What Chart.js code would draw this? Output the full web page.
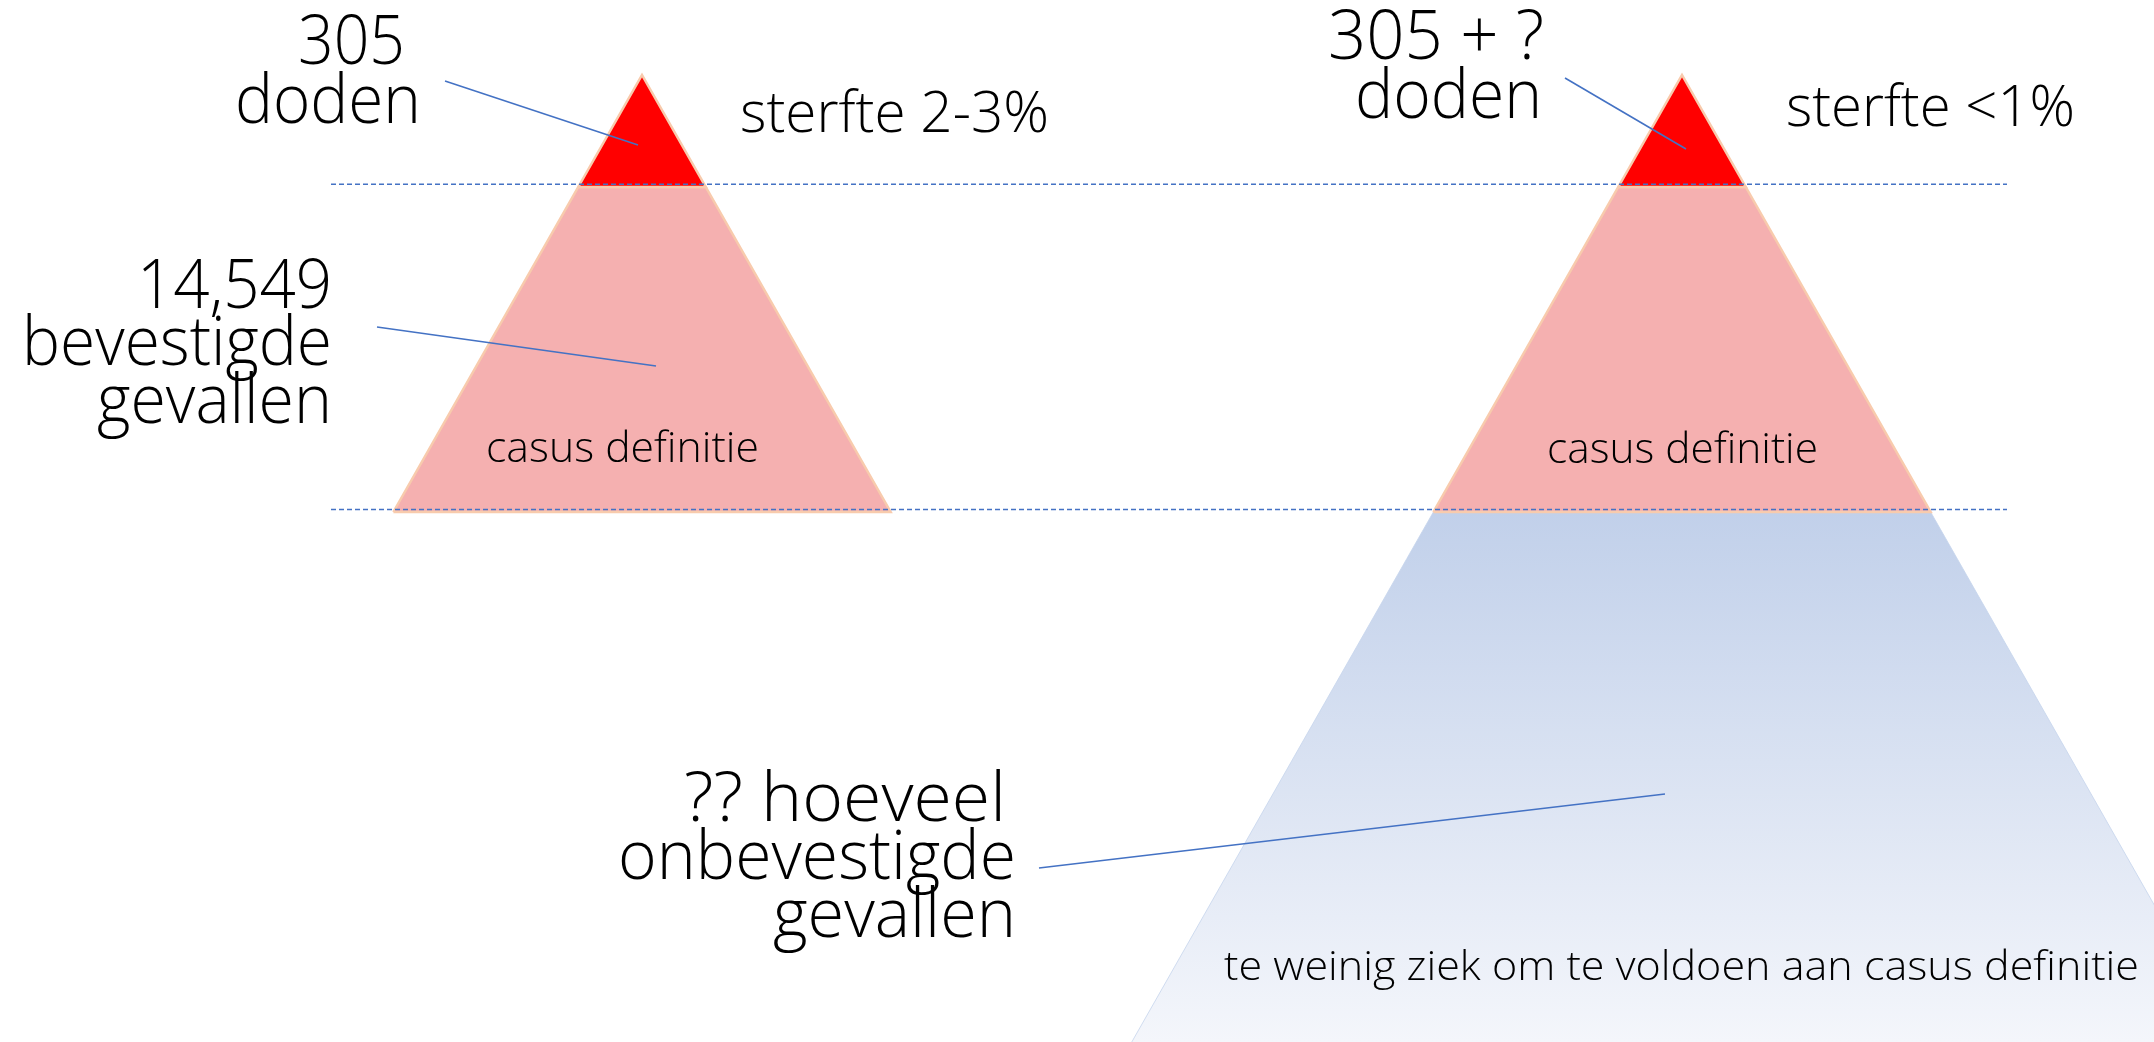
<!DOCTYPE html>
<html>
<head>
<meta charset="utf-8">
<script src="https://cdn.jsdelivr.net/npm/chart.js@4.4.1/dist/chart.umd.min.js"></script>
<style>
  html, body { margin: 0; padding: 0; background: #ffffff; overflow: hidden; }
  #wrap { width: 2154px; height: 1042px; position: relative; }
</style>
</head>
<body>
<div id="wrap"><canvas id="c"></canvas></div>
<script>
// ---------------- DATA (diagram frame: x 0..2154, y 0..1042, y downward) ----------------
const pyramidNames   = ['bevestigd', 'geschat'];
const apexX          = [642, 1682];          // top of each pyramid
const tierLevels     = [75, 187, 512, 1042]; // apex, doden-grens, casus-definitie-grens, onderkant
const halfWidthRate  = 0.569;                // half width per unit of height
const guideLevels    = [184.3, 509.5];       // dashed reference lines
const guideSpan      = [331, 2007];

// callout lines: [fromX, fromY, toX, toY]
const calloutFromX = [445, 377, 1565, 1039];
const calloutFromY = [81, 327, 78, 868];
const calloutToX   = [638, 656, 1686, 1665];
const calloutToY   = [145, 366, 149, 794];

// text labels
const labelText = ['305', 'doden', 'sterfte 2-3%', '14,549', 'bevestigde', 'gevallen', 'casus definitie',
                   '305 + ?', 'doden', 'sterfte <1%', 'casus definitie',
                   '?? hoeveel', 'onbevestigde', 'gevallen',
                   'te weinig ziek om te voldoen aan casus definitie'];

// ---------------- LAYOUT (text placement) ----------------
const labelLeft     = [298, 235, 740, 137, 22, 97, 486, 1328, 1355, 1786, 1547, 684, 618, 773, 1224];
const labelRight    = [405, 421, 1049, 332, 332, 332, 759, 1544, 1542, 2075, 1818, 1006, 1016, 1016, 2139];
const labelBaseline = [64, 123, 132, 308, 365, 423, 462, 59, 118, 126, 463, 821, 879, 937, 980];
const labelSize     = [68, 68, 57, 68, 68, 68, 43, 68, 68, 57, 43, 68, 68, 68, 40];

// ---------------- build shapes from data ----------------
const [yApex, yDoden, yBev, yBottom] = tierLevels;
function edgeX(i, y, side) { return apexX[i] + side * halfWidthRate * (y - yApex); }

function redTri(i) {
  return [{x: edgeX(i, yDoden, -1), y: yDoden}, {x: apexX[i], y: yApex}, {x: edgeX(i, yDoden, 1), y: yDoden}];
}
function pinkTrap(i) {
  return [{x: edgeX(i, yBev, -1), y: yBev}, {x: edgeX(i, yDoden, -1), y: yDoden},
          {x: edgeX(i, yDoden, 1), y: yDoden}, {x: edgeX(i, yBev, 1), y: yBev}];
}
function blueTri(i) {
  return [{x: edgeX(i, yBottom, -1), y: yBottom}, {x: apexX[i], y: yApex}, {x: edgeX(i, yBottom, 1), y: yBottom}];
}
function closed(pts) { return pts.concat([pts[0]]); }

const PINK = '#F5B0B0', RED = '#FF0000', PEACH = '#F8CBAD', BLUE = '#4472C4';

function blueGradient(context) {
  const chart = context.chart;
  const area = chart.chartArea;
  if (!area) return '#C8D6EE';
  const ys = chart.scales.y;
  const g = chart.ctx.createLinearGradient(0, ys.getPixelForValue(yBev), 0, ys.getPixelForValue(yBottom));
  g.addColorStop(0, '#C1D0EA');
  g.addColorStop(1, '#F4F6FB');
  return g;
}

const base = { pointRadius: 0, pointHoverRadius: 0, tension: 0, showLine: true };
const datasets = [];

// callouts (top)
for (let k = 0; k < calloutFromX.length; k++) {
  datasets.push(Object.assign({}, base, {
    label: 'callout' + k, order: 1,
    data: [{x: calloutFromX[k], y: calloutFromY[k]}, {x: calloutToX[k], y: calloutToY[k]}],
    borderColor: BLUE, borderWidth: 1.6, fill: false
  }));
}
// dashed guides
guideLevels.forEach((g, k) => {
  datasets.push(Object.assign({}, base, {
    label: 'guide' + k, order: 2,
    data: [{x: guideSpan[0], y: g}, {x: guideSpan[1], y: g}],
    borderColor: BLUE, borderWidth: 1.5, borderDash: [5, 3], fill: false
  }));
});
// pyramids
pyramidNames.forEach((name, i) => {
  datasets.push(Object.assign({}, base, {
    label: name + ' doden rand', order: 3,
    data: closed(redTri(i)), borderColor: PEACH, borderWidth: 2.5, fill: false
  }));
  datasets.push(Object.assign({}, base, {
    label: name + ' doden', order: 4,
    data: redTri(i), borderWidth: 0, borderColor: RED, backgroundColor: RED, fill: {value: yDoden}
  }));
  datasets.push(Object.assign({}, base, {
    label: name + ' bevestigd rand', order: 5,
    data: closed(pinkTrap(i)), borderColor: PEACH, borderWidth: 2.5, fill: false
  }));
  datasets.push(Object.assign({}, base, {
    label: name + ' bevestigd', order: 6,
    data: pinkTrap(i), borderWidth: 0, borderColor: PINK, backgroundColor: PINK, fill: {value: yBev}
  }));
  if (name === 'geschat') {
    datasets.push(Object.assign({}, base, {
      label: name + ' onbevestigd', order: 7,
      data: blueTri(i), borderWidth: 0.8, borderColor: '#C5D4EC', backgroundColor: blueGradient, fill: {value: yBottom}
    }));
  }
});

const textPlugin = {
  id: 'labels',
  afterDraw(chart) {
    const c = chart.ctx, xs = chart.scales.x, ys = chart.scales.y;
    c.save();
    c.fillStyle = '#000000';
    c.textAlign = 'left';
    c.textBaseline = 'alphabetic';
    labelText.forEach((t, k) => {
      c.font = '300 ' + labelSize[k] + 'px "Open Sans", "Lato", sans-serif';
      const w = c.measureText(t).width;
      const x0 = xs.getPixelForValue(labelLeft[k]);
      const x1 = xs.getPixelForValue(labelRight[k]);
      const y = ys.getPixelForValue(labelBaseline[k]);
      c.save();
      c.translate(x0, y);
      c.scale((x1 - x0) / w, 1);
      c.fillText(t, 0, 0);
      c.restore();
    });
    c.restore();
  }
};

function draw() {
  new Chart(document.getElementById('c'), {
    type: 'line',
    data: { datasets },
    options: {
      responsive: true,
      maintainAspectRatio: false,
      animation: false,
      layout: { padding: 0 },
      plugins: { legend: { display: false }, tooltip: { enabled: false }, filler: { propagate: false } },
      scales: {
        x: { type: 'linear', min: 0, max: 2154, display: false },
        y: { type: 'linear', min: 0, max: 1042, reverse: true, display: false }
      },
      elements: { line: { capBezierPoints: false } }
    },
    plugins: [textPlugin]
  });
}
if (document.fonts && document.fonts.load) {
  Promise.all([document.fonts.load('300 68px "Open Sans"')]).then(draw, draw);
} else { draw(); }
</script>
</body>
</html>
